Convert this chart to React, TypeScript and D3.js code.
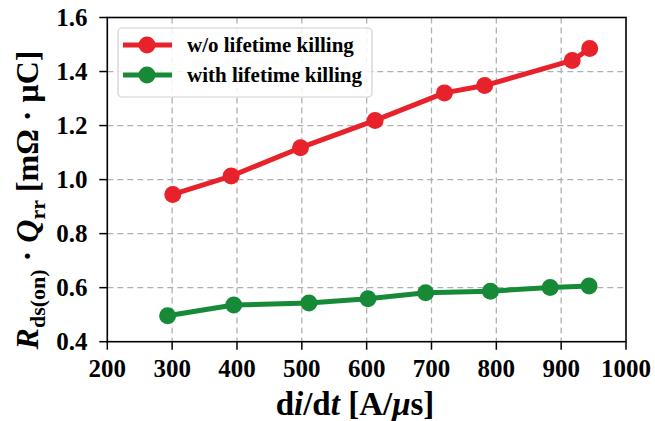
import React from "react";
import * as d3 from "d3";

const xWithout = [301, 391, 498, 613, 720, 782, 917, 944];
const yWithout = [0.945, 1.013, 1.118, 1.219, 1.321, 1.348, 1.441, 1.485];
const xWith = [293, 395, 511, 602, 691, 791, 883, 943];
const yWith = [0.496, 0.536, 0.543, 0.559, 0.581, 0.587, 0.601, 0.606];
const xTicks = [200, 300, 400, 500, 600, 700, 800, 900, 1000];
const yTicks = [0.4, 0.6, 0.8, 1.0, 1.2, 1.4, 1.6];
const seriesNames = ["w/o lifetime killing", "with lifetime killing"];
const RED = "#e8222a";
const GREEN = "#178a38";

export default function App() {
  const W = 655, H = 421;
  const x = d3.scaleLinear().domain([200, 1000]).range([107.3, 626]);
  const y = d3.scaleLinear().domain([0.4, 1.6]).range([341.7, 17.5]);
  const line = d3.line<[number, number]>().x((d) => x(d[0])).y((d) => y(d[1]));
  const series = [
    { name: seriesNames[0], color: RED, pts: xWithout.map((v, i) => [v, yWithout[i]] as [number, number]) },
    { name: seriesNames[1], color: GREEN, pts: xWith.map((v, i) => [v, yWith[i]] as [number, number]) },
  ];
  const font = "'Liberation Serif', 'Times New Roman', serif";
  const [x0, x1] = x.range();
  const [yb, yt] = y.range();
  return (
    <svg width={W} height={H} style={{ position: "absolute", left: 0, top: 0, background: "#fff" }} fontFamily={font}>
      {xTicks.slice(1, -1).map((t) => (
        <line key={"gx" + t} x1={x(t)} x2={x(t)} y1={yt} y2={yb} stroke="#b0b0b0" strokeWidth={1.3} strokeDasharray="6,4" />
      ))}
      {yTicks.slice(1, -1).map((t) => (
        <line key={"gy" + t} x1={x0} x2={x1} y1={y(t)} y2={y(t)} stroke="#b0b0b0" strokeWidth={1.3} strokeDasharray="6,4" />
      ))}
      {series.map((s) => (
        <g key={s.name}>
          <path d={line(s.pts) || ""} fill="none" stroke={s.color} strokeWidth={5} strokeLinejoin="round" />
          {s.pts.map((p, i) => (
            <circle key={i} cx={x(p[0])} cy={y(p[1])} r={8.5} fill={s.color} />
          ))}
        </g>
      ))}
      <rect x={x0} y={yt} width={x1 - x0} height={yb - yt} fill="none" stroke="#000" strokeWidth={1.6} />
      {xTicks.map((t) => (
        <g key={"xt" + t}>
          <line x1={x(t)} x2={x(t)} y1={yb} y2={yb + 8} stroke="#000" strokeWidth={1.5} />
          <text x={x(t)} y={377} textAnchor="middle" fontSize={25} fontWeight="bold">{t}</text>
        </g>
      ))}
      {yTicks.map((t) => (
        <g key={"yt" + t}>
          <line x1={x0 - 8} x2={x0} y1={y(t)} y2={y(t)} stroke="#000" strokeWidth={1.5} />
          <text x={87.5} y={y(t)} dy="0.35em" textAnchor="end" fontSize={25} fontWeight="bold">{t.toFixed(1)}</text>
        </g>
      ))}
      <text x={355} y={415} textAnchor="middle" fontSize={33} fontWeight="bold">
        d<tspan fontStyle="italic">i</tspan>/d<tspan fontStyle="italic">t</tspan> [A/<tspan fontStyle="italic">μ</tspan>s]
      </text>
      <text transform="translate(38,200) rotate(-90)" textAnchor="middle" fontSize={32} fontWeight="bold">
        <tspan fontStyle="italic">R</tspan>
        <tspan fontSize={22} dy={7}>ds(on)</tspan>
        <tspan dy={-7}> · </tspan>
        <tspan fontStyle="italic">Q</tspan>
        <tspan fontSize={22} dy={7}>rr</tspan>
        <tspan dy={-7}> [mΩ · μC]</tspan>
      </text>
      <rect x={118} y={28} width={254} height={69} rx={4} fill="#fff" fillOpacity={0.85} stroke="#d0d0d0" strokeWidth={1.2} />
      {series.map((s, i) => {
        const ly = 45 + i * 30;
        return (
          <g key={"lg" + i}>
            <line x1={123} x2={172} y1={ly} y2={ly} stroke={s.color} strokeWidth={5} />
            <circle cx={147} cy={ly} r={8.5} fill={s.color} />
            <text x={187} y={ly} dy="0.35em" fontSize={21} fontWeight="bold">{s.name}</text>
          </g>
        );
      })}
    </svg>
  );
}
